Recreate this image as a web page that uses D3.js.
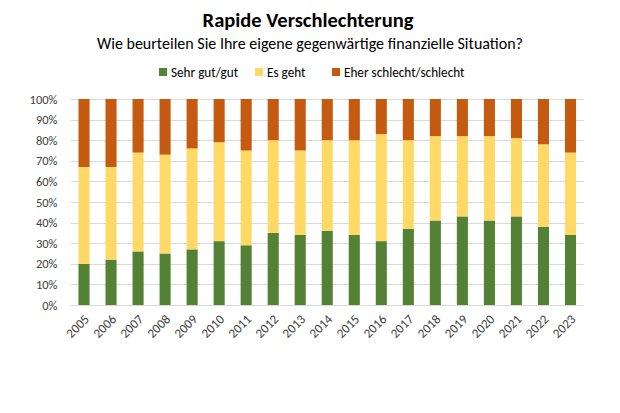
<!DOCTYPE html>
<html><head><meta charset="utf-8">
<script src="https://cdn.jsdelivr.net/npm/d3@7"></script>
<style>body{margin:0;background:#fff;} svg{display:block;}</style>
</head><body>
<script>
const years = ["2005","2006","2007","2008","2009","2010","2011","2012","2013","2014","2015","2016","2017","2018","2019","2020","2021","2022","2023"];
const gut =      [20,22,26,25,27,31,29,35,34,36,34,31,37,41,43,41,43,38,34];
const esGeht =   [47,45,48,48,49,48,46,45,41,44,46,52,43,41,39,41,38,40,40];
const schlecht = [33,33,26,27,24,21,25,20,25,20,20,17,20,18,18,18,19,22,26];
const seriesNames = ["Sehr gut/gut","Es geht","Eher schlecht/schlecht"];
const colors = ["#548235","#FFD966","#C55A11"];
const yTicks = [0,10,20,30,40,50,60,70,80,90,100];
const titleText = "Rapide Verschlechterung";
const subtitleText = "Wie beurteilen Sie Ihre eigene gegenwärtige finanzielle Situation?";

const W = 620, H = 413;
const font = "Carlito, Lato, 'Liberation Sans', sans-serif";
const svg = d3.select("body").append("svg").attr("width", W).attr("height", H)
  .style("font-family", font);

const margin = {left: 70.5, right: 36, top: 99, bottom: 108};
const x = d3.scaleBand().domain(years).range([margin.left, W - margin.right]).paddingInner(0.59).paddingOuter(0.295);
const y = d3.scaleLinear().domain([0, 100]).range([H - margin.bottom, margin.top]);

const table = years.map((yr, i) => ({year: yr, s0: gut[i], s1: esGeht[i], s2: schlecht[i]}));
const stack = d3.stack().keys(["s0","s1","s2"]).offset(d3.stackOffsetExpand);
const layers = stack(table);

// gridlines
svg.append("g").selectAll("line").data(yTicks).join("line")
  .attr("x1", margin.left).attr("x2", W - margin.right)
  .attr("y1", d => Math.round(y(d)) + 0.5).attr("y2", d => Math.round(y(d)) + 0.5)
  .attr("stroke", "#d9d9d9").attr("stroke-width", 1);

// bars
svg.append("g").selectAll("g").data(layers).join("g")
  .attr("fill", (d, i) => colors[i])
  .selectAll("rect").data(d => d).join("rect")
  .attr("x", d => x(d.data.year))
  .attr("width", x.bandwidth())
  .attr("y", d => y(d[1] * 100))
  .attr("height", d => y(d[0] * 100) - y(d[1] * 100));

// y axis labels
const yAxis = d3.axisLeft(y).tickValues(yTicks).tickFormat(d => d + "%").tickSize(0).tickPadding(13);
const gy = svg.append("g").attr("transform", `translate(${margin.left},0)`).call(yAxis);
gy.select(".domain").remove();
gy.selectAll("text").attr("fill", "#404040").style("font-size", "12.5px").style("font-family", font);

// x axis labels
const xAxis = d3.axisBottom(x).tickSize(0).tickPadding(0);
const gx = svg.append("g").attr("transform", `translate(0,${H - margin.bottom})`).call(xAxis);
gx.select(".domain").remove();
gx.selectAll("text")
  .attr("fill", "#404040").style("font-size", "13px").style("font-family", font)
  .attr("text-anchor", "end")
  .attr("dy", null)
  .attr("transform", "translate(6,15) rotate(-45)");

// title
svg.append("text").attr("x", 308).attr("y", 27).attr("text-anchor", "middle")
  .style("font-size", "20.5px").style("font-weight", "bold").attr("fill", "#000").text(titleText);
svg.append("text").attr("x", 310).attr("y", 49).attr("text-anchor", "middle")
  .style("font-size", "16px").attr("fill", "#000").text(subtitleText);

// legend
const legendX = [159, 255, 332];
const lg = svg.append("g").selectAll("g").data(seriesNames).join("g")
  .attr("transform", (d, i) => `translate(${legendX[i]},77)`);
lg.append("rect").attr("x", 0).attr("y", -9).attr("width", 8).attr("height", 8).attr("fill", (d, i) => colors[i]);
lg.append("text").attr("x", 12).attr("y", 0).style("font-size", "13.2px").attr("fill", "#000").text(d => d);
</script>
</body></html>
